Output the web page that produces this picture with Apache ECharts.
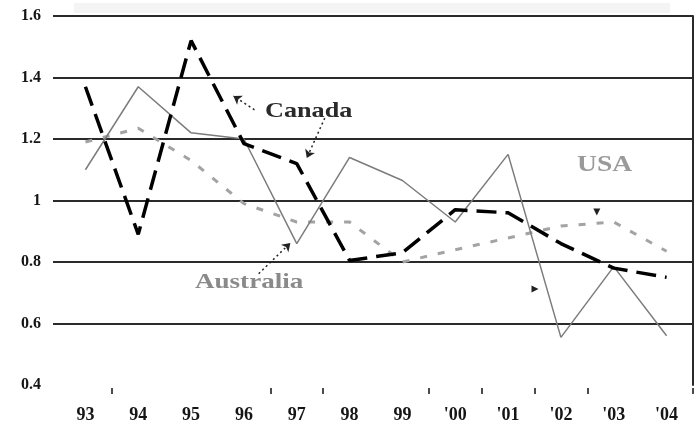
<!DOCTYPE html>
<html>
<head>
<meta charset="utf-8">
<script src="https://cdn.jsdelivr.net/npm/echarts@6/dist/echarts.min.js"></script>
<style>
  html, body { margin: 0; padding: 0; background: #ffffff; }
  #chart { width: 700px; height: 427px; }
</style>
</head>
<body>
<div id="chart"></div>
<script>
const years = ["93", "94", "95", "96", "97", "98", "99", "'00", "'01", "'02", "'03", "'04"];
const canada = [1.37, 0.89, 1.52, 1.185, 1.12, 0.805, 0.83, 0.97, 0.96, 0.86, 0.78, 0.75];
const australia = [1.10, 1.37, 1.22, 1.20, 0.86, 1.14, 1.065, 0.93, 1.15, 0.555, 0.785, 0.56];
const usa = [1.19, 1.235, 1.13, 0.99, 0.93, 0.93, 0.80, 0.84, 0.878, 0.917, 0.93, 0.835];
const yTicks = { min: 0.4, max: 1.6, step: 0.2 };
const visibleTickIdx = [1, 4, 5, 7, 8, 9, 10];

// annotation arrows in (category index, value) units
const arrows = [
  { from: [3.20, 1.295], to: [2.80, 1.340] },
  { from: [4.53, 1.268], to: [4.19, 1.138] },
  { from: [3.28, 0.762], to: [3.88, 0.862] }
];
const strayHeads = [
  { at: [9.68, 0.963], rot: 180 },
  { at: [8.51, 0.712], rot: -90 }
];

const serif = '"Liberation Serif", "DejaVu Serif", serif';
const chart = echarts.init(document.getElementById('chart'), null, { renderer: 'canvas' });

chart.setOption({
  animation: false,
  backgroundColor: '#ffffff',
  grid: [
    { left: 59, right: 7, top: 16, bottom: 42 },
    { left: 53, right: 7, top: 16, bottom: 42 }
  ],
  graphic: [
    { type: 'rect', shape: { x: 74, y: 3, width: 596, height: 10 }, style: { fill: '#f4f4f4' }, z: -1 },
    { type: 'text', x: 265, y: 100, scaleX: 1.19, style: { text: 'Canada', font: 'bold 22px ' + serif, fill: '#2a2a2a' } },
    { type: 'text', x: 577, y: 154, scaleX: 1.2, style: { text: 'USA', font: 'bold 23px ' + serif, fill: '#9a9a9a' } },
    { type: 'text', x: 195, y: 271, scaleX: 1.23, style: { text: 'Australia', font: 'bold 22px ' + serif, fill: '#8a8a8a' } }
  ],
  xAxis: [
    {
      type: 'category', gridIndex: 0, data: years, boundaryGap: true, offset: 3,
      axisLine: { show: false },
      axisTick: { show: true, length: 6, lineStyle: { color: '#111', width: 1.5 },
        interval: function (idx) { return visibleTickIdx.indexOf(idx) >= 0; } },
      axisLabel: { margin: 18, fontFamily: serif, fontWeight: 'bold', fontSize: 18, color: '#151515' },
      splitLine: { show: false }
    },
    { type: 'value', gridIndex: 1, min: -0.6133, max: 11.5, show: false }
  ],
  yAxis: [
    { type: 'value', gridIndex: 0, min: yTicks.min, max: yTicks.max, interval: yTicks.step, show: false },
    {
      type: 'value', gridIndex: 1, min: yTicks.min, max: yTicks.max, interval: yTicks.step,
      axisLine: { show: false }, axisTick: { show: false },
      axisLabel: { margin: 12, fontFamily: serif, fontWeight: 'bold', fontSize: 16, color: '#151515' },
      splitLine: { show: true, showMinLine: false, lineStyle: { color: '#2a2a2a', width: 2 } }
    },
    {
      type: 'value', gridIndex: 1, position: 'right', min: yTicks.min, max: yTicks.max, interval: yTicks.step,
      axisLine: { show: true, lineStyle: { color: '#2a2a2a', width: 2 } },
      axisTick: { show: false }, axisLabel: { show: false }, splitLine: { show: false }
    }
  ],
  series: [
    {
      name: 'USA', type: 'line', xAxisIndex: 0, yAxisIndex: 0, data: usa,
      showSymbol: false, symbol: 'none',
      lineStyle: { color: '#a3a3a3', width: 3, type: [7, 11] }
    },
    {
      name: 'Australia', type: 'line', xAxisIndex: 0, yAxisIndex: 0, data: australia,
      showSymbol: false, symbol: 'none',
      lineStyle: { color: '#7c7c7c', width: 1.5 }
    },
    {
      name: 'Canada', type: 'line', xAxisIndex: 0, yAxisIndex: 0, data: canada,
      showSymbol: false, symbol: 'none',
      lineStyle: { color: '#000000', width: 3.5, type: [20, 9] }
    },
    {
      name: 'annotations', type: 'line', xAxisIndex: 1, yAxisIndex: 1, data: [],
      silent: true,
      markLine: {
        silent: true, symbol: ['none', 'arrow'], symbolSize: 8,
        label: { show: false },
        lineStyle: { color: '#222', width: 1.5, type: [2, 3] },
        data: arrows.map(a => [{ coord: a.from }, { coord: a.to }])
      },
      markPoint: {
        silent: true, symbol: 'triangle', symbolSize: 7,
        itemStyle: { color: '#222' }, label: { show: false },
        data: strayHeads.map(s => ({ coord: s.at, symbolRotate: s.rot }))
      }
    }
  ]
});
</script>
</body>
</html>
